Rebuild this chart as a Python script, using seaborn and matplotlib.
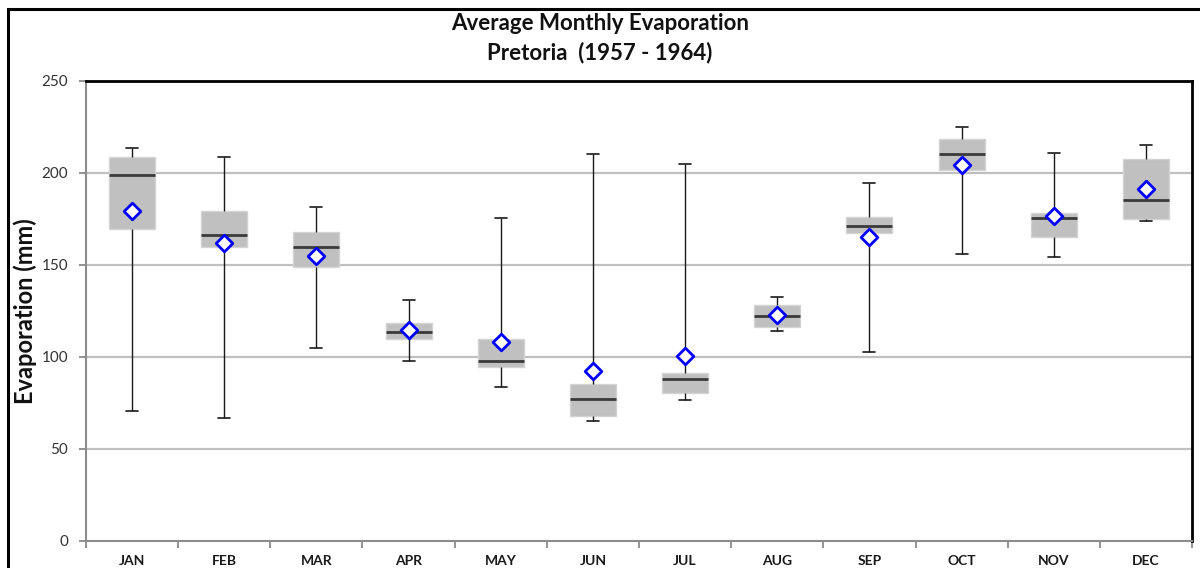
import numpy as np
import pandas as pd
import matplotlib
matplotlib.use("Agg")
import matplotlib.pyplot as plt
from matplotlib.patches import Rectangle
import seaborn as sns

# Monthly evaporation summary, Pretoria 1957-1964 (mm)
months = ["JAN", "FEB", "MAR", "APR", "MAY", "JUN",
          "JUL", "AUG", "SEP", "OCT", "NOV", "DEC"]
minimum = [70.8, 66.7, 105.1, 97.7, 83.7, 65.0, 76.6, 114.3, 102.5, 156.0, 154.5, 173.7]
q1      = [169.4, 159.8, 149.1, 109.8, 94.4, 68.1, 80.2, 116.1, 167.2, 201.5, 165.2, 174.8]
median  = [198.7, 166.1, 159.8, 113.6, 97.8, 77.0, 88.2, 122.5, 171.4, 210.5, 175.7, 185.3]
q3      = [208.5, 179.3, 167.9, 118.3, 109.6, 85.3, 91.1, 128.1, 175.9, 218.3, 178.1, 207.4]
maximum = [213.8, 208.5, 181.7, 130.8, 175.4, 210.2, 204.7, 132.4, 194.7, 225.2, 210.7, 215.0]
mean    = [179.3, 161.8, 154.7, 114.5, 108.0, 92.6, 100.5, 122.8, 165.4, 204.2, 176.6, 191.1]

# Five-number summaries as long-form data: with linear percentiles the
# quartiles of [min, q1, median, q3, max] are exactly q1, median and q3.
summary = pd.DataFrame({
    "month": np.repeat(months, 5),
    "value": np.column_stack([minimum, q1, median, q3, maximum]).ravel(),
})
means = pd.DataFrame({"month": months, "value": mean})

sns.set_theme(style="white")
plt.rcParams["font.family"] = ["Lato", "DejaVu Sans"]

fig = plt.figure(figsize=(12, 5.68), dpi=100)
ax = fig.add_axes([86 / 1200, 1 - 541 / 568, 1106 / 1200, 460 / 568])

grid_color = "#c0c0c0"
for yv in [50, 100, 150, 200]:
    ax.axhline(yv, color=grid_color, lw=1.6, zorder=0)

sns.boxplot(
    data=summary, x="month", y="value", order=months,
    whis=(0, 100), width=0.5, showfliers=False, ax=ax,
    boxprops=dict(facecolor="#c0c0c0", edgecolor="#d4d4d4", linewidth=1),
    medianprops=dict(color="#3a3a3a", linewidth=2),
    whiskerprops=dict(color="#1a1a1a", linewidth=1),
    capprops=dict(color="#1a1a1a", linewidth=1.2),
    capwidths=0.13,
    zorder=2,
)

sns.stripplot(
    data=means, x="month", y="value", order=months,
    jitter=False, marker="D", size=8.5, color="white",
    edgecolor="#0000ff", linewidth=2, ax=ax, zorder=4,
)

ax.set_xlim(-0.5, 11.5)
ax.set_ylim(0, 250)
ax.set_yticks([0, 50, 100, 150, 200, 250])
ax.set_xticks(np.arange(-0.5, 12, 1), minor=False)
ax.set_xticklabels([])
ax.set_xticks(np.arange(12), minor=True)
ax.set_xticklabels(months, minor=True, fontsize=10, fontweight="bold", color="#1a1a1a")
ax.tick_params(axis="x", which="major", direction="out", length=5, width=1.2,
               color="#808080", bottom=True)
ax.tick_params(axis="x", which="minor", length=0, pad=10, bottom=True)
ax.tick_params(axis="y", direction="out", length=5, width=1.2, color="#808080",
               labelsize=11, labelcolor="#333333", left=True, pad=8)

ax.set_xlabel("")
ax.set_ylabel("Evaporation (mm)", fontsize=17, fontweight="bold", color="#111111")
ax.yaxis.set_label_coords(-0.044, 0.5)

for side in ["left", "bottom"]:
    ax.spines[side].set_color("#8c8c8c")
    ax.spines[side].set_linewidth(1.5)
for side in ["top", "right"]:
    ax.spines[side].set_color("black")
    ax.spines[side].set_linewidth(2)
    ax.spines[side].set_visible(True)

fig.text(0.5, 1 - 24 / 568, "Average Monthly Evaporation", ha="center", va="center",
         fontsize=16, fontweight="bold", color="#111111")
fig.text(0.5, 1 - 53 / 568, "Pretoria  (1957 - 1964)", ha="center", va="center",
         fontsize=16, fontweight="bold", color="#111111")

# Outer chart frame
fig.patches.append(Rectangle((8 / 1200, -0.1), 1.2, 1 - 9 / 568 + 0.1,
                             transform=fig.transFigure, fill=False,
                             edgecolor="black", linewidth=2.2, zorder=10))

fig.savefig("out.png", dpi=100)
